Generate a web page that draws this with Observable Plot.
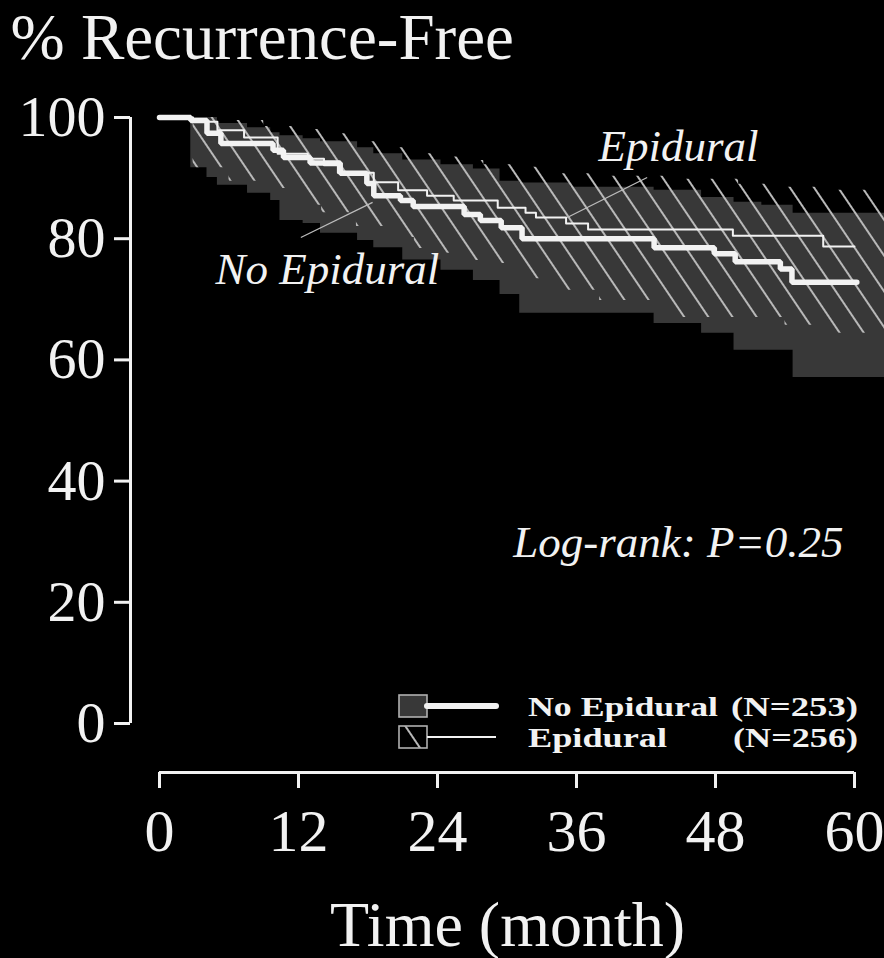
<!DOCTYPE html>
<html><head><meta charset="utf-8">
<script src="https://cdn.jsdelivr.net/npm/d3@7"></script>
<script src="https://cdn.jsdelivr.net/npm/@observablehq/plot@0.6"></script>
<style>
html,body{margin:0;padding:0;background:#000;}
#chart{width:884px;height:958px;}
</style></head><body><div id="chart"></div>
<script>
// ---- data ----
const xTicks = [0, 12, 24, 36, 48, 60];
const yTicks = [0, 20, 40, 60, 80, 100];

// Kaplan-Meier: No Epidural (thick line)
const noEpiMonth = [0, 2.7, 4.1, 5.3, 9.8, 10.7, 13.0, 15.6, 17.9, 18.5, 20.8, 21.9, 26.3, 27.7, 29.5, 31.3, 42.7, 47.9, 49.7, 53.6, 54.6, 60.2];
const noEpiPct   = [100, 99.5, 97.4, 95.7, 94.6, 93.4, 92.5, 90.8, 89.1, 87.1, 86.3, 85.3, 84.0, 83.0, 81.8, 80.0, 78.5, 77.5, 76.2, 75.0, 72.8, 72.8];

// Kaplan-Meier: Epidural (thin line)
const epiMonth = [0, 2.9, 5.0, 7.3, 10.2, 12.8, 14.2, 15.4, 18.5, 20.6, 23.1, 25.4, 29.2, 31.6, 32.5, 35.1, 37.0, 49.5, 57.3, 60.0];
const epiPct   = [100, 99.3, 97.9, 96.7, 94.0, 93.2, 92.1, 90.9, 89.3, 88.0, 87.1, 86.3, 85.1, 84.3, 83.5, 82.5, 81.5, 80.5, 78.7, 78.7];

// Confidence band: No Epidural (solid grey)
const noEpiCIMonth = [2.7, 4.1, 5.0, 7.6, 9.6, 10.4, 12.4, 13.9, 17.1, 18.5, 21.0, 24.3, 27.1, 29.4, 31.1, 35.5, 42.7, 46.8, 49.6, 52.0, 54.7, 62.6];
const noEpiCILow   = [91.7, 90.1, 88.8, 87.5, 86.3, 83.0, 82.5, 80.9, 79.7, 78.5, 76.5, 74.8, 73.1, 70.8, 67.7, 67.7, 66.0, 64.4, 61.6, 61.6, 57.1, 57.1];
const noEpiCIHigh  = [100, 100, 99.0, 98.3, 97.5, 97.0, 96.5, 96.0, 95.0, 94.0, 93.0, 92.2, 91.5, 89.5, 89.2, 88.5, 88.0, 86.8, 86.0, 85.5, 84.2, 84.2];

// Confidence band: Epidural (hatched)
const epiCIMonth = [2.9, 6.0, 9.0, 12.0, 14.0, 17.0, 19.0, 20.0, 22.0, 24.0, 26.0, 28.0, 31.0, 34.0, 38.0, 44.0, 50.0, 54.0, 57.0, 62.6];
const epiCILow   = [91.7, 89.5, 88.3, 85.5, 84.3, 82.0, 82.0, 80.2, 78.4, 77.6, 76.4, 75.9, 73.4, 71.5, 69.8, 67.0, 67.0, 65.7, 64.4, 64.4];
const epiCIHigh  = [100, 99.5, 98.5, 98.0, 97.3, 96.0, 95.3, 95.0, 94.0, 93.5, 92.9, 92.2, 91.8, 90.7, 90.3, 89.8, 89.0, 88.5, 88.0, 87.5];

// annotations
const annoLabels = ["Epidural", "No Epidural", "Log-rank: P=0.25"];
const annoMonth  = [44.8, 14.5, 44.8];
const annoPct    = [92.9, 72.6, 27.4];
const leaderFromMonth = [42.1, 12.2];
const leaderFromPct   = [90.1, 80.2];
const leaderToMonth   = [35.2, 18.4];
const leaderToPct     = [83.5, 86.0];

// legend
const legendNames = ["No Epidural", "Epidural"];
const legendN     = ["(N=253)", "(N=256)"];

const titleText = "% Recurrence-Free";
const xLabelText = "Time (month)";

// ---- build tables ----
const idx = (a) => a.map((_, i) => i);
const noEpi = idx(noEpiMonth).map(i => ({m: noEpiMonth[i], p: noEpiPct[i]}));
const epi = idx(epiMonth).map(i => ({m: epiMonth[i], p: epiPct[i]}));
const noEpiCI = idx(noEpiCIMonth).map(i => ({m: noEpiCIMonth[i], lo: noEpiCILow[i], hi: noEpiCIHigh[i]}));
const epiCI = idx(epiCIMonth).map(i => ({m: epiCIMonth[i], lo: epiCILow[i], hi: epiCIHigh[i]}));
const anno = idx(annoLabels).map(i => ({t: annoLabels[i], m: annoMonth[i], p: annoPct[i]}));
const leaders = idx(leaderFromMonth).map(i => ({x1: leaderFromMonth[i], y1: leaderFromPct[i], x2: leaderToMonth[i], y2: leaderToPct[i]}));

const FONT = "'Liberation Serif', 'Times New Roman', serif";
const WHITE = "#f2f2f2";

const chart = Plot.plot({
  width: 884,
  height: 958,
  marginLeft: 130,
  marginRight: 0,
  marginTop: 117,
  marginBottom: 186,
  style: {background: "#000", color: WHITE, fontFamily: FONT},
  x: {domain: [xTicks[0], xTicks[xTicks.length - 1]], insetLeft: 29, insetRight: 30},
  y: {domain: [yTicks[0], yTicks[yTicks.length - 1]], insetBottom: 49},
  marks: [
    Plot.areaY(noEpiCI, {x: "m", y1: "lo", y2: "hi", curve: "step-after", fill: "#383838"}),
    Plot.areaY(epiCI, {x: "m", y1: "lo", y2: "hi", curve: "step-after", fill: "url(#hatch)"}),
    Plot.line(epi, {x: "m", y: "p", curve: "step-after", stroke: WHITE, strokeWidth: 2}),
    Plot.line(noEpi, {x: "m", y: "p", curve: "step-after", stroke: WHITE, strokeWidth: 5.5, strokeLinecap: "round", strokeLinejoin: "miter"}),
    Plot.link(leaders, {x1: "x1", y1: "y1", x2: "x2", y2: "y2", stroke: "#bcbcbc", strokeWidth: 1.3}),
    Plot.text(anno, {x: "m", y: "p", text: "t", fontStyle: "italic", fontSize: 45, lineAnchor: "bottom", fill: WHITE}),
    // axes
    Plot.ruleX([xTicks[0]], {y1: yTicks[0], y2: yTicks[yTicks.length - 1], dx: -29, stroke: WHITE, strokeWidth: 3}),
    Plot.ruleY([yTicks[0]], {x1: xTicks[0], x2: xTicks[xTicks.length - 1], dy: 49, stroke: WHITE, strokeWidth: 3}),
    Plot.axisY({ticks: yTicks, tickSize: 16, tickPadding: 9, strokeWidth: 3, fontSize: 58, label: null, tickFormat: d => String(d)}),
    Plot.axisX({ticks: xTicks, tickSize: 16, tickPadding: 20, strokeWidth: 3, fontSize: 60, label: null, tickFormat: d => String(d)}),
    Plot.text([titleText], {frameAnchor: "top-left", dx: -120, dy: -59, textAnchor: "start", lineAnchor: "bottom", fontSize: 65, fill: WHITE}),
    Plot.text([xLabelText], {frameAnchor: "bottom", dy: 173, lineAnchor: "bottom", fontSize: 64, fill: WHITE})
  ]
});
document.getElementById("chart").appendChild(chart);

// hatch pattern
const svg = d3.select(chart);
const defs = svg.insert("defs", ":first-child");
const pat = defs.append("pattern").attr("id", "hatch").attr("patternUnits", "userSpaceOnUse")
  .attr("width", 20).attr("height", 20).attr("patternTransform", "rotate(-34)");
pat.append("line").attr("x1", 10).attr("y1", -2).attr("x2", 10).attr("y2", 22)
  .attr("stroke", "#b8b8b8").attr("stroke-width", 2);

// legend (inside plot, lower right)
const lg = svg.append("g").attr("font-family", FONT).attr("font-weight", "bold").attr("font-size", 27)
  .attr("fill", WHITE).attr("text-anchor", "start");
const rowY = [706, 737];
const nameWidth = [190, 139];
const nWidth = [127, 125];
legendNames.forEach((name, i) => {
  const cy = rowY[i];
  lg.append("rect").attr("x", 399).attr("y", cy - 11).attr("width", 28).attr("height", 22)
    .attr("fill", i === 0 ? "#383838" : "url(#hatch)").attr("stroke", "#b0b0b0").attr("stroke-width", 1.6);
  lg.append("line").attr("x1", 427).attr("x2", 496).attr("y1", cy).attr("y2", cy)
    .attr("stroke", WHITE).attr("stroke-width", i === 0 ? 6 : 2).attr("stroke-linecap", i === 0 ? "round" : "butt");
  lg.append("text").attr("x", 528).attr("y", cy + 10).attr("text-anchor", "start")
    .attr("textLength", nameWidth[i]).attr("lengthAdjust", "spacingAndGlyphs").text(name);
  lg.append("text").attr("x", 858 - nWidth[i]).attr("y", cy + 10).attr("text-anchor", "start")
    .attr("textLength", nWidth[i]).attr("lengthAdjust", "spacingAndGlyphs").text(legendN[i]);
});
</script></body></html>
